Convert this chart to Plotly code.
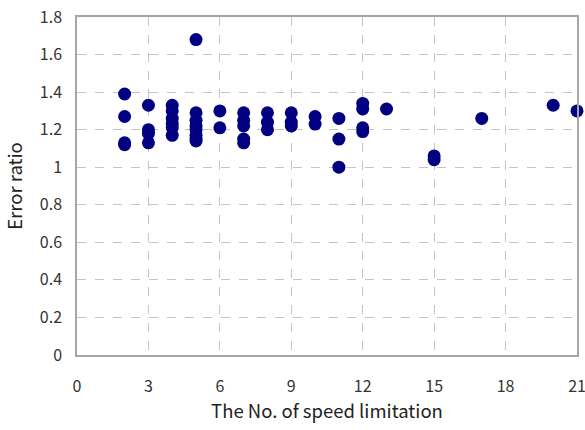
import plotly.graph_objects as go

speed_limits = [2, 2, 2, 2,
                3, 3, 3, 3,
                4, 4, 4, 4, 4, 4,
                5, 5, 5, 5, 5, 5, 5, 5,
                6, 6,
                7, 7, 7, 7, 7,
                8, 8, 8,
                9, 9, 9,
                10, 10,
                11, 11, 11,
                12, 12, 12, 12,
                13,
                15, 15,
                17,
                20,
                21]
error_ratio = [1.39, 1.27, 1.12, 1.13,
               1.33, 1.20, 1.18, 1.13,
               1.33, 1.30, 1.26, 1.23, 1.21, 1.17,
               1.68, 1.29, 1.25, 1.22, 1.20, 1.17, 1.15, 1.14,
               1.30, 1.21,
               1.29, 1.25, 1.22, 1.15, 1.13,
               1.29, 1.24, 1.20,
               1.29, 1.24, 1.22,
               1.27, 1.23,
               1.26, 1.15, 1.00,
               1.34, 1.31, 1.21, 1.19,
               1.31,
               1.06, 1.04,
               1.26,
               1.33,
               1.30]

x_ticks = [0, 3, 6, 9, 12, 15, 18, 21]
y_ticks = [0, 0.2, 0.4, 0.6, 0.8, 1, 1.2, 1.4, 1.6, 1.8]
y_tick_text = ["0", "0.2", "0.4", "0.6", "0.8", "1", "1.2", "1.4", "1.6", "1.8"]

font_family = "Noto Sans CJK KR, DejaVu Sans, sans-serif"

fig = go.Figure(go.Scatter(
    x=speed_limits, y=error_ratio, mode="markers",
    marker=dict(color="#000080", size=13, line=dict(width=0)),
    cliponaxis=False,
))

axis_common = dict(
    showgrid=True, gridcolor="#C4C4C4", griddash="dash", gridwidth=1,
    showline=True, linecolor="#A6A6A6", linewidth=1.5, mirror=True,
    zeroline=False, ticks="",
    tickfont=dict(size=16, color="#333333", family=font_family),
)

# figure is a little wider than the 585px window so the last x tick label
# does not force the margin; the window crops the extra width
fig.update_layout(
    width=601, height=430,
    margin=dict(l=77, r=24, t=17, b=75),
    paper_bgcolor="white", plot_bgcolor="white",
    showlegend=False,
    font=dict(family=font_family, color="#222222"),
    xaxis=dict(range=[0, 21], tickmode="array", tickvals=x_ticks,
               title=dict(text="The No. of speed limitation", font=dict(size=18.5), standoff=7),
               ticklabelstandoff=16, **axis_common),
    yaxis=dict(range=[0, 1.8], tickmode="array", tickvals=y_ticks, ticktext=y_tick_text,
               title=dict(text="Error ratio", font=dict(size=18.5), standoff=12),
               ticklabelstandoff=10, automargin=False, **axis_common),
)

fig.write_html("out.html",
               config={"displayModeBar": False},
               post_script="document.body.style.margin='0';document.body.style.overflow='hidden';")
